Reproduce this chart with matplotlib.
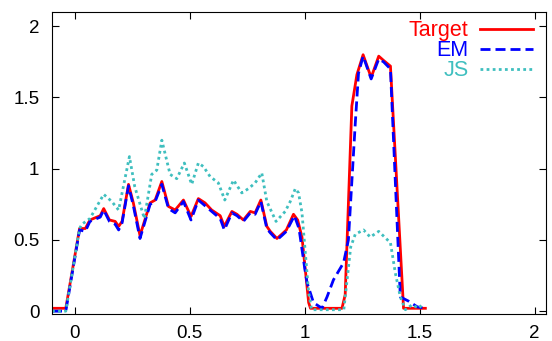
import matplotlib
matplotlib.use("Agg")
import matplotlib.pyplot as plt

# values
target_x = [-0.10, -0.04, 0.02, 0.045, 0.065, 0.11, 0.125, 0.15, 0.175, 0.19, 0.205,
            0.233, 0.254, 0.283, 0.327, 0.349, 0.378, 0.407, 0.436, 0.472, 0.505,
            0.537, 0.566, 0.595, 0.632, 0.65, 0.683, 0.705, 0.733, 0.763, 0.784,
            0.809, 0.835, 0.85, 0.879, 0.90, 0.92, 0.951, 0.969, 0.988, 1.017,
            1.025, 1.162, 1.176, 1.205, 1.227, 1.254, 1.289, 1.322, 1.343, 1.373,
            1.43, 1.525]
target_y = [0.02, 0.02, 0.58, 0.58, 0.64, 0.67, 0.72, 0.64, 0.63, 0.595, 0.63,
            0.89, 0.76, 0.53, 0.76, 0.78, 0.91, 0.735, 0.71, 0.78, 0.665,
            0.79, 0.76, 0.71, 0.67, 0.595, 0.70, 0.68, 0.64, 0.70, 0.69,
            0.78, 0.595, 0.56, 0.51, 0.54, 0.57, 0.68, 0.64, 0.52, 0.06,
            0.02, 0.02, 0.115, 1.44, 1.66, 1.80, 1.64, 1.79, 1.76, 1.72,
            0.02, 0.02]

em_x = [-0.10, -0.04, 0.02, 0.045, 0.065, 0.11, 0.125, 0.15, 0.175, 0.19, 0.205,
        0.233, 0.254, 0.283, 0.327, 0.349, 0.378, 0.407, 0.436, 0.472, 0.505,
        0.537, 0.566, 0.595, 0.632, 0.65, 0.683, 0.705, 0.733, 0.763, 0.784,
        0.809, 0.835, 0.85, 0.879, 0.90, 0.92, 0.955, 0.975, 1.0, 1.01, 1.038,
        1.075, 1.097, 1.125, 1.169, 1.19, 1.22, 1.234, 1.254, 1.289, 1.322,
        1.343, 1.373, 1.416, 1.452, 1.49, 1.525]
em_y = [0.0, 0.0, 0.57, 0.56, 0.63, 0.66, 0.71, 0.63, 0.61, 0.57, 0.62,
        0.88, 0.74, 0.51, 0.75, 0.77, 0.89, 0.72, 0.69, 0.77, 0.64,
        0.78, 0.74, 0.70, 0.65, 0.57, 0.69, 0.67, 0.63, 0.69, 0.68,
        0.77, 0.58, 0.55, 0.50, 0.53, 0.56, 0.67, 0.58, 0.30, 0.20, 0.06,
        0.02, 0.10, 0.22, 0.34, 0.50, 1.32, 1.67, 1.79, 1.63, 1.77,
        1.75, 1.70, 0.10, 0.07, 0.03, 0.02]

js_x = [-0.10, -0.04, 0.02, 0.03, 0.065, 0.125, 0.16, 0.19, 0.237, 0.26, 0.302,
        0.334, 0.356, 0.378, 0.414, 0.443, 0.476, 0.508, 0.537, 0.559, 0.588,
        0.624, 0.652, 0.69, 0.726, 0.755, 0.784, 0.813, 0.835, 0.875, 0.915,
        0.937, 0.959, 0.973, 0.988, 1.017, 1.03, 1.17, 1.20, 1.22, 1.256,
        1.285, 1.322, 1.373, 1.394, 1.416, 1.438, 1.467, 1.496, 1.51]
js_y = [0.0, 0.0, 0.58, 0.61, 0.65, 0.82, 0.77, 0.71, 1.085, 0.875, 0.65,
        0.96, 0.99, 1.20, 0.96, 0.93, 1.04, 0.89, 1.04, 1.015, 0.945,
        0.90, 0.78, 0.92, 0.83, 0.86, 0.90, 0.97, 0.77, 0.63, 0.70,
        0.77, 0.86, 0.83, 0.69, 0.13, 0.01, 0.01, 0.45, 0.54, 0.57,
        0.52, 0.56, 0.48, 0.27, 0.10, 0.01, 0.045, 0.02, 0.045]

labels = ["Target", "EM", "JS"]
colors = ["#ff0000", "#0000ff", "#3fbfbf"]

plt.rcParams['font.family'] = ['Liberation Sans', 'DejaVu Sans']
plt.rcParams['font.size'] = 13.5

fig = plt.figure(figsize=(5.52, 3.41), dpi=100)
ax = fig.add_axes([52/552, 1 - 314/341, (546-52)/552, (314-12)/341])

ax.plot(target_x, target_y, color=colors[0], lw=2, label=labels[0])
ax.plot(em_x, em_y, color=colors[1], lw=2, dashes=(3.6, 1.8), label=labels[1])
ax.plot(js_x, js_y, color=colors[2], lw=2, dashes=(1.0, 1.2), label=labels[2])

ax.set_xlim(-0.1, 2.05)
ax.set_ylim(-0.02, 2.1)
ax.set_xticks([0, 0.5, 1, 1.5, 2])
ax.set_xticklabels(["0", "0.5", "1", "1.5", "2"])
ax.set_yticks([0, 0.5, 1, 1.5, 2])
ax.set_yticklabels(["0", "0.5", "1", "1.5", "2"])
ax.tick_params(axis='both', direction='in', length=5, width=0.8,
               top=True, right=True, labelsize=13.5)
ax.tick_params(axis='x', pad=8)
ax.tick_params(axis='y', pad=9)
for s in ax.spines.values():
    s.set_linewidth(0.8)

leg = ax.legend(loc='upper right', bbox_to_anchor=(0.974, 0.972),
                frameon=False, markerfirst=False,
                handlelength=2.45, handletextpad=0.55, labelspacing=-0.05,
                borderaxespad=0.0, borderpad=0.0, fontsize=15.5)
for t, c in zip(leg.get_texts(), colors):
    t.set_color(c)

fig.savefig("out.png", dpi=100)
